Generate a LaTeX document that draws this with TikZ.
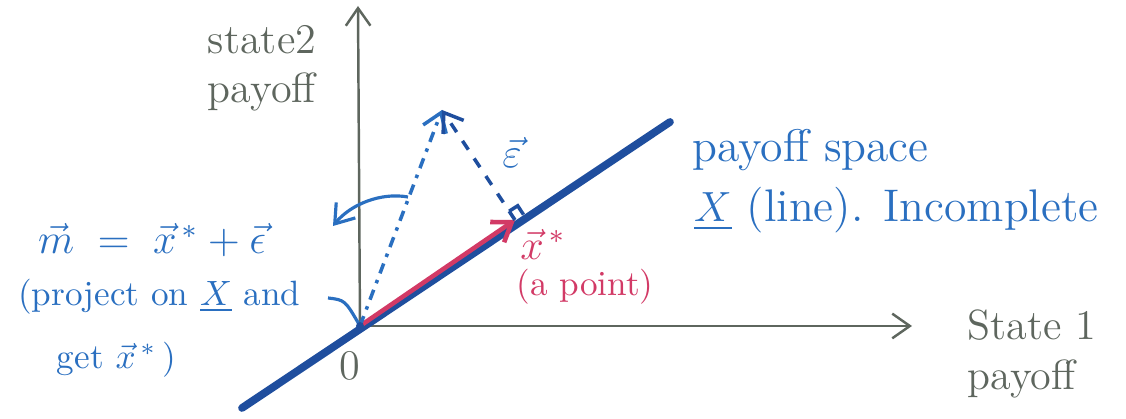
\documentclass[tikz,border=0pt]{standalone}
\usepackage{amsmath}
\usepackage{amssymb}
\usetikzlibrary{arrows.meta, positioning, calc}

\definecolor{axisgray}{HTML}{5E665E}
\definecolor{penblue}{HTML}{2A6FC0}
\definecolor{deepblue}{HTML}{1F4E9E}
\definecolor{penred}{HTML}{D23A66}

\begin{document}
\begin{tikzpicture}[
  x=0.01cm, y=-0.01cm,
  >={Straight Barb[length=5pt, width=7pt]},
  axis/.style    = {draw=axisgray, line width=0.7pt, ->},
  axislabel/.style = {text=axisgray, font=\large, align=left, inner sep=1pt},
  bluenote/.style  = {text=penblue, font=\fontsize{13}{17}\selectfont, align=left, inner sep=1pt},
  rednote/.style   = {text=penred, font=\large, inner sep=1pt},
]
  \useasboundingbox (0,0) rectangle (1126,419);

  % points of the sketch
  \coordinate (O)     at (360,326);
  \coordinate (ytop)  at (358,6);
  \coordinate (xend)  at (912,326);
  \coordinate (lnlow) at (242,408);
  \coordinate (lnup)  at (670,122);
  \coordinate (xstar) at (515,220);
  \coordinate (mtip)  at (442,110);

  % axes
  \draw[axis] (O) -- (ytop);
  \draw[axis] (O) -- (xend);

  % payoff space line
  \draw[deepblue, line width=2.2pt, line cap=round] (lnlow) -- (lnup);

  % projection
  \draw[penred, line width=1.3pt, ->] (O) -- (xstar);
  \draw[penblue, line width=1pt, dash dot, ->] (O) -- (mtip);
  \draw[deepblue, line width=1pt, dashed, ->] (xstar) -- (mtip);

  % right angle mark
  \coordinate (ra) at ($(xstar)!0.08!(mtip)$);
  \coordinate (rb) at ($(xstar)!0.055!(lnup)$);
  \draw[deepblue, line width=1pt] (ra) -- ($(ra)+(rb)-(xstar)$) -- (rb);

  % pointers
  \draw[penblue, line width=0.9pt, ->] (408,197) .. controls (380,192) and (350,205) .. (333,226);
  \draw[penblue, line width=0.9pt] (328,298) .. controls (345,300) .. (O);
  \fill[deepblue] (O) circle (4);

  % labels
  \node[axislabel] (lblstate2) at (262,68) {state2\\payoff};
  \node[axislabel] (lblstate1) at (1032,354) {State 1\\payoff};
  \node[text=axisgray, font=\large] (lblzero) at (350,366) {0};

  \node[bluenote, anchor=west] (lblspace) at (688,150) {payoff space};
  \node[bluenote, anchor=west] (lblline)  at (690,210) {$\underline{X}$ (line). Incomplete};
  \node[bluenote] (lbleps) at (512,152) {$\vec{\varepsilon}$};

  \node[rednote] (lblxstar) at (543,244) {$\vec{x}^{\,*}$};
  \node[rednote, font=\normalsize] (lblpoint) at (585,287) {(a point)};

  \node[bluenote, font=\large] (lbleq) at (152,240) {$\vec{m} \;=\; \vec{x}^{\,*} + \vec{\epsilon}$};
  \node[bluenote, font=\normalsize, anchor=west] (lblproj) at (14,328) {(project on $\underline{X}$ and\\[6pt] \hspace*{1.1em}get $\vec{x}^{\,*}$\,)};
\end{tikzpicture}
\end{document}
